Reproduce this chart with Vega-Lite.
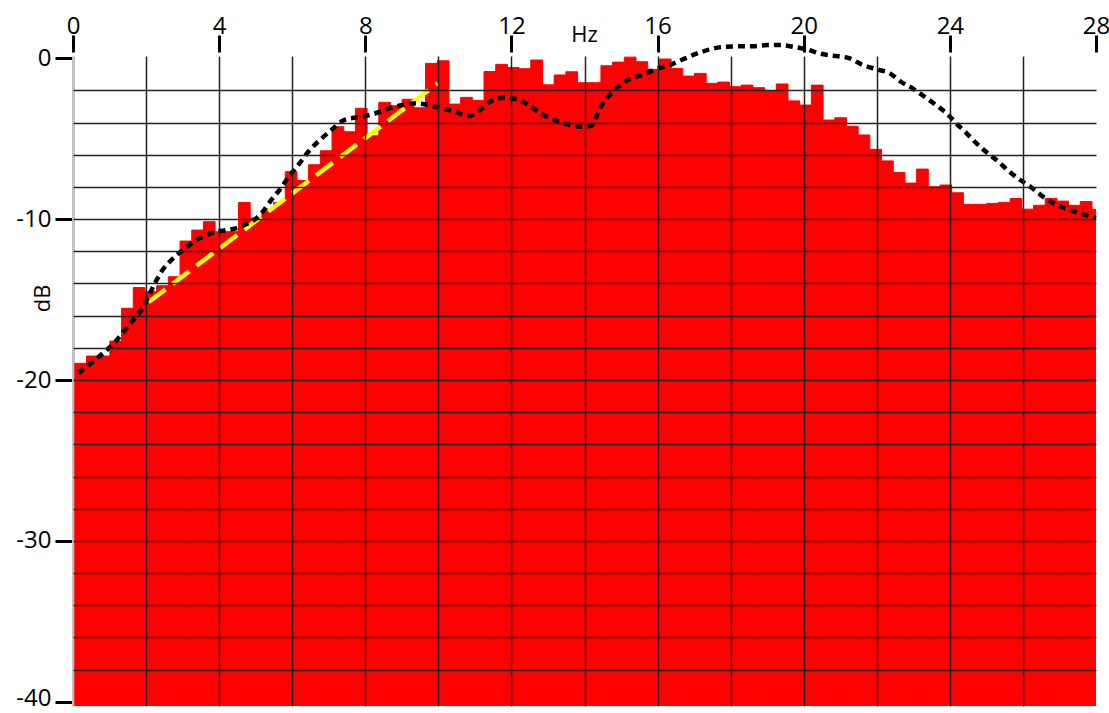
{
  "$schema": "https://vega.github.io/schema/vega-lite/v6.json",
  "width": 1023,
  "height": 650,
  "autosize": {"type": "none"},
  "padding": {"left": 73, "top": 56, "right": 13, "bottom": 7},
  "background": "white",
  "config": {"view": {"stroke": null}, "font": "Open Sans"},
  "datasets": {
    "spectrum": [
      {"lo": 0.05, "hi": 0.37, "db": -18.96},
      {"lo": 0.37, "hi": 0.69, "db": -18.51},
      {"lo": 0.69, "hi": 1.01, "db": -18.51},
      {"lo": 1.01, "hi": 1.33, "db": -17.58},
      {"lo": 1.33, "hi": 1.65, "db": -15.54},
      {"lo": 1.65, "hi": 1.97, "db": -14.25},
      {"lo": 1.97, "hi": 2.29, "db": -14.51},
      {"lo": 2.29, "hi": 2.61, "db": -14.14},
      {"lo": 2.61, "hi": 2.93, "db": -13.58},
      {"lo": 2.93, "hi": 3.25, "db": -11.36},
      {"lo": 3.25, "hi": 3.57, "db": -10.68},
      {"lo": 3.57, "hi": 3.89, "db": -10.16},
      {"lo": 3.89, "hi": 4.21, "db": -10.78},
      {"lo": 4.21, "hi": 4.53, "db": -10.78},
      {"lo": 4.53, "hi": 4.85, "db": -8.97},
      {"lo": 4.85, "hi": 5.17, "db": -9.93},
      {"lo": 5.17, "hi": 5.49, "db": -9.43},
      {"lo": 5.49, "hi": 5.81, "db": -8.96},
      {"lo": 5.81, "hi": 6.13, "db": -7.05},
      {"lo": 6.13, "hi": 6.45, "db": -7.6},
      {"lo": 6.45, "hi": 6.77, "db": -6.62},
      {"lo": 6.77, "hi": 7.09, "db": -5.75},
      {"lo": 7.09, "hi": 7.41, "db": -4.26},
      {"lo": 7.41, "hi": 7.73, "db": -4.57},
      {"lo": 7.73, "hi": 8.05, "db": -3.11},
      {"lo": 8.05, "hi": 8.37, "db": -4.82},
      {"lo": 8.37, "hi": 8.69, "db": -2.74},
      {"lo": 8.69, "hi": 9.01, "db": -2.95},
      {"lo": 9.01, "hi": 9.33, "db": -2.55},
      {"lo": 9.33, "hi": 9.65, "db": -3.08},
      {"lo": 9.65, "hi": 9.97, "db": -0.32},
      {"lo": 9.97, "hi": 10.29, "db": -0.16},
      {"lo": 10.29, "hi": 10.61, "db": -2.85},
      {"lo": 10.61, "hi": 10.93, "db": -2.43},
      {"lo": 10.93, "hi": 11.25, "db": -2.62},
      {"lo": 11.25, "hi": 11.57, "db": -0.83},
      {"lo": 11.57, "hi": 11.89, "db": -0.38},
      {"lo": 11.89, "hi": 12.21, "db": -0.58},
      {"lo": 12.21, "hi": 12.53, "db": -0.65},
      {"lo": 12.53, "hi": 12.85, "db": -0.11},
      {"lo": 12.85, "hi": 13.17, "db": -1.65},
      {"lo": 13.17, "hi": 13.49, "db": -1.04},
      {"lo": 13.49, "hi": 13.81, "db": -0.84},
      {"lo": 13.81, "hi": 14.13, "db": -1.52},
      {"lo": 14.13, "hi": 14.45, "db": -1.52},
      {"lo": 14.45, "hi": 14.77, "db": -0.47},
      {"lo": 14.77, "hi": 15.09, "db": -0.24},
      {"lo": 15.09, "hi": 15.41, "db": 0.07},
      {"lo": 15.41, "hi": 15.73, "db": -0.22},
      {"lo": 15.73, "hi": 16.05, "db": -0.69},
      {"lo": 16.05, "hi": 16.37, "db": -0.05},
      {"lo": 16.37, "hi": 16.69, "db": -0.63},
      {"lo": 16.69, "hi": 17.01, "db": -1.11},
      {"lo": 17.01, "hi": 17.33, "db": -0.94},
      {"lo": 17.33, "hi": 17.65, "db": -1.56},
      {"lo": 17.65, "hi": 17.97, "db": -1.48},
      {"lo": 17.97, "hi": 18.29, "db": -1.77},
      {"lo": 18.29, "hi": 18.61, "db": -1.67},
      {"lo": 18.61, "hi": 18.93, "db": -1.83},
      {"lo": 18.93, "hi": 19.25, "db": -2.04},
      {"lo": 19.25, "hi": 19.57, "db": -1.6},
      {"lo": 19.57, "hi": 19.89, "db": -2.65},
      {"lo": 19.89, "hi": 20.21, "db": -2.91},
      {"lo": 20.21, "hi": 20.53, "db": -1.67},
      {"lo": 20.53, "hi": 20.85, "db": -3.84},
      {"lo": 20.85, "hi": 21.17, "db": -3.7},
      {"lo": 21.17, "hi": 21.49, "db": -4.23},
      {"lo": 21.49, "hi": 21.81, "db": -4.77},
      {"lo": 21.81, "hi": 22.13, "db": -5.66},
      {"lo": 22.13, "hi": 22.45, "db": -6.38},
      {"lo": 22.45, "hi": 22.77, "db": -7.1},
      {"lo": 22.77, "hi": 23.09, "db": -7.76},
      {"lo": 23.09, "hi": 23.41, "db": -6.89},
      {"lo": 23.41, "hi": 23.73, "db": -7.99},
      {"lo": 23.73, "hi": 24.05, "db": -7.88},
      {"lo": 24.05, "hi": 24.37, "db": -8.36},
      {"lo": 24.37, "hi": 24.69, "db": -9.08},
      {"lo": 24.69, "hi": 25.01, "db": -9.08},
      {"lo": 25.01, "hi": 25.33, "db": -9.02},
      {"lo": 25.33, "hi": 25.65, "db": -8.96},
      {"lo": 25.65, "hi": 25.97, "db": -8.72},
      {"lo": 25.97, "hi": 26.29, "db": -9.38},
      {"lo": 26.29, "hi": 26.61, "db": -9.14},
      {"lo": 26.61, "hi": 26.93, "db": -8.71},
      {"lo": 26.93, "hi": 27.25, "db": -8.88},
      {"lo": 27.25, "hi": 27.57, "db": -9.14},
      {"lo": 27.57, "hi": 27.89, "db": -8.91},
      {"lo": 27.89, "hi": 28.21, "db": -9.39}
    ],
    "smooth": [
      {"f": 0.15, "db": -19.56},
      {"f": 0.74, "db": -18.49},
      {"f": 1.15, "db": -17.64},
      {"f": 1.51, "db": -16.64},
      {"f": 1.9, "db": -15.54},
      {"f": 2.24, "db": -13.99},
      {"f": 2.43, "db": -13.23},
      {"f": 2.72, "db": -12.48},
      {"f": 3.01, "db": -11.92},
      {"f": 3.54, "db": -11.09},
      {"f": 3.93, "db": -10.78},
      {"f": 4.34, "db": -10.63},
      {"f": 4.66, "db": -10.4},
      {"f": 5.16, "db": -9.64},
      {"f": 5.39, "db": -8.92},
      {"f": 5.67, "db": -8.13},
      {"f": 5.94, "db": -7.26},
      {"f": 6.21, "db": -6.51},
      {"f": 6.44, "db": -5.81},
      {"f": 6.81, "db": -4.98},
      {"f": 7.12, "db": -4.36},
      {"f": 7.42, "db": -3.84},
      {"f": 7.85, "db": -3.65},
      {"f": 8.22, "db": -3.47},
      {"f": 8.59, "db": -3.16},
      {"f": 8.95, "db": -2.94},
      {"f": 9.41, "db": -2.8},
      {"f": 9.72, "db": -2.91},
      {"f": 10.09, "db": -3.11},
      {"f": 10.45, "db": -3.31},
      {"f": 10.82, "db": -3.59},
      {"f": 11.14, "db": -3.22},
      {"f": 11.41, "db": -2.7},
      {"f": 11.78, "db": -2.45},
      {"f": 12.14, "db": -2.55},
      {"f": 12.48, "db": -2.91},
      {"f": 12.78, "db": -3.41},
      {"f": 13.14, "db": -3.79},
      {"f": 13.51, "db": -4.1},
      {"f": 13.88, "db": -4.26},
      {"f": 14.2, "db": -4.18},
      {"f": 14.42, "db": -3.11},
      {"f": 14.61, "db": -2.49},
      {"f": 14.88, "db": -1.85},
      {"f": 15.19, "db": -1.35},
      {"f": 15.61, "db": -1.01},
      {"f": 16.0, "db": -0.65},
      {"f": 16.37, "db": -0.39},
      {"f": 16.68, "db": -0.08},
      {"f": 17.05, "db": 0.27},
      {"f": 17.41, "db": 0.54},
      {"f": 17.82, "db": 0.71},
      {"f": 18.21, "db": 0.74},
      {"f": 18.62, "db": 0.75},
      {"f": 19.01, "db": 0.82},
      {"f": 19.38, "db": 0.82},
      {"f": 19.71, "db": 0.71},
      {"f": 20.1, "db": 0.54},
      {"f": 20.47, "db": 0.28},
      {"f": 20.81, "db": 0.16},
      {"f": 21.26, "db": -0.01},
      {"f": 21.58, "db": -0.38},
      {"f": 22.0, "db": -0.69},
      {"f": 22.36, "db": -0.94},
      {"f": 22.66, "db": -1.46},
      {"f": 23.0, "db": -1.9},
      {"f": 23.32, "db": -2.41},
      {"f": 23.64, "db": -2.94},
      {"f": 23.91, "db": -3.42},
      {"f": 24.18, "db": -4.05},
      {"f": 24.46, "db": -4.67},
      {"f": 24.73, "db": -5.29},
      {"f": 25.03, "db": -5.89},
      {"f": 25.32, "db": -6.41},
      {"f": 25.61, "db": -7.02},
      {"f": 25.92, "db": -7.55},
      {"f": 26.24, "db": -8.05},
      {"f": 26.52, "db": -8.55},
      {"f": 26.85, "db": -9.03},
      {"f": 27.19, "db": -9.35},
      {"f": 27.51, "db": -9.6},
      {"f": 27.89, "db": -9.87},
      {"f": 28.0, "db": -9.95}
    ],
    "slope": [
      {"f": 2.07, "db": -15.15},
      {"f": 9.98, "db": -1.56}
    ]
  },
  "layer": [
    {
      "data": {"name": "spectrum"},
      "mark": {"type": "rect", "color": "#ff0000", "stroke": "#ff0000", "strokeWidth": 1, "clip": true},
      "encoding": {
        "x": {
          "field": "lo",
          "type": "quantitative",
          "scale": {"domain": [0, 28], "nice": false, "zero": false},
          "axis": {
            "orient": "top",
            "values": [2, 4, 6, 8, 10, 12, 14, 16, 18, 20, 22, 24, 26],
            "grid": true,
            "gridColor": "#222222",
            "gridWidth": 1.5,
            "gridOpacity": 1,
            "labels": false,
            "ticks": false,
            "domain": false,
            "title": null,
            "zindex": 1
          }
        },
        "x2": {"field": "hi"},
        "y": {
          "field": "db",
          "type": "quantitative",
          "scale": {"domain": [-40.26, 0.14], "nice": false, "zero": false},
          "axis": {
            "orient": "left",
            "values": [-2, -4, -6, -8, -10, -12, -14, -16, -18, -20, -22, -24, -26, -28, -30, -32, -34, -36, -38],
            "grid": true,
            "gridColor": "#222222",
            "gridWidth": 1.5,
            "gridOpacity": 1,
            "labels": false,
            "ticks": false,
            "domain": false,
            "title": null,
            "zindex": 1
          }
        },
        "y2": {"datum": -40.26}
      }
    },
    {
      "data": {"name": "slope"},
      "mark": {"type": "line", "color": "#ffff00", "strokeWidth": 4.5, "strokeDash": [21, 9]},
      "encoding": {
        "x": {"field": "f", "type": "quantitative", "axis": null},
        "y": {"field": "db", "type": "quantitative", "axis": null}
      }
    },
    {
      "data": {"name": "smooth"},
      "mark": {"type": "line", "color": "#000000", "strokeWidth": 4.5, "strokeDash": [7, 5], "interpolate": "monotone"},
      "encoding": {
        "x": {
          "field": "f",
          "type": "quantitative",
          "axis": {
            "orient": "top",
            "values": [0, 4, 8, 12, 16, 20, 24, 28],
            "grid": false,
            "domain": false,
            "offset": 4,
            "ticks": true,
            "tickSize": 17,
            "tickWidth": 3,
            "tickColor": "#000000",
            "labelFont": "Open Sans",
            "labelFontSize": 24,
            "labelColor": "#000000",
            "labelBaseline": "alphabetic",
            "labelPadding": 2,
            "labelFlush": false,
            "labelOverlap": false,
            "title": "Hz",
            "titleFont": "Open Sans",
            "titleFontSize": 22,
            "titleFontWeight": "normal",
            "titleColor": "#000000",
            "titleX": 511,
            "titleY": -11,
            "titleAlign": "center",
            "titleBaseline": "alphabetic",
            "titleAngle": 0
          }
        },
        "y": {
          "field": "db",
          "type": "quantitative",
          "axis": {
            "orient": "left",
            "values": [0, -10, -20, -30, -40],
            "labelExpr": "'' + datum.value",
            "grid": false,
            "domain": true,
            "domainColor": "#c0c0c0",
            "domainWidth": 3,
            "ticks": true,
            "tickSize": 18,
            "tickWidth": 3,
            "tickColor": "#000000",
            "labelFont": "Open Sans",
            "labelFontSize": 24,
            "labelColor": "#000000",
            "labelPadding": 4,
            "labelOffset": {"condition": {"test": "datum.value === -40", "value": -3}, "value": 0},
            "labelFlush": false,
            "labelOverlap": false,
            "title": "dB",
            "titleFont": "Open Sans",
            "titleFontSize": 22,
            "titleFontWeight": "normal",
            "titleColor": "#000000",
            "titleX": -31,
            "titleY": 242,
            "titleAngle": 270,
            "titleAlign": "center",
            "titleBaseline": "middle"
          }
        }
      }
    }
  ],
  "resolve": {"axis": {"x": "independent", "y": "independent"}}
}
